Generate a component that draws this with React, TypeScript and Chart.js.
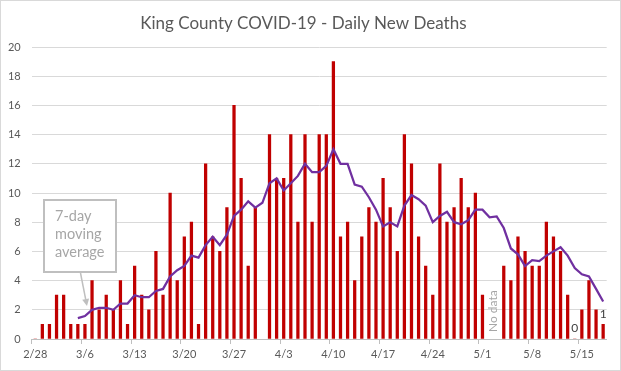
import React, { useEffect, useRef } from 'react';
import { Chart, registerables } from 'chart.js';

Chart.register(...registerables);

const FONT = 'Lato, "Open Sans", sans-serif';

const titleText = 'King County COVID-19 - Daily New Deaths';

const dates = [
  '2/28', '2/29', '3/1', '3/2', '3/3', '3/4', '3/5', '3/6', '3/7', '3/8',
  '3/9', '3/10', '3/11', '3/12', '3/13', '3/14', '3/15', '3/16', '3/17', '3/18',
  '3/19', '3/20', '3/21', '3/22', '3/23', '3/24', '3/25', '3/26', '3/27', '3/28',
  '3/29', '3/30', '3/31', '4/1', '4/2', '4/3', '4/4', '4/5', '4/6', '4/7',
  '4/8', '4/9', '4/10', '4/11', '4/12', '4/13', '4/14', '4/15', '4/16', '4/17',
  '4/18', '4/19', '4/20', '4/21', '4/22', '4/23', '4/24', '4/25', '4/26', '4/27',
  '4/28', '4/29', '4/30', '5/1', '5/2', '5/3', '5/4', '5/5', '5/6', '5/7',
  '5/8', '5/9', '5/10', '5/11', '5/12', '5/13', '5/14', '5/15', '5/16', '5/17',
  '5/18',
];

const dailyDeaths = [
  0, 1, 1, 3, 3, 1, 1, 1, 4, 2,
  3, 2, 4, 1, 5, 3, 2, 6, 3, 10,
  4, 7, 8, 1, 12, 7, 6, 9, 16, 11,
  5, 9, null, 14, 11, 11, 14, 8, 14, 8,
  14, 14, 19, 7, 8, 4, 7, 9, 8, 11,
  9, 6, 14, 12, 7, 5, 3, 12, 8, 9,
  11, 9, 10, 3, null, null, 5, 4, 7, 6,
  5, 5, 8, 7, 6, 3, 0, 2, 4, 2,
  1,
];

const movingAverage = [
  null, null, null, null, null, null, 1.43, 1.57, 2.0, 2.14,
  2.14, 2.0, 2.43, 2.43, 3.0, 2.86, 2.86, 3.29, 3.43, 4.29,
  4.71, 5.0, 5.71, 5.57, 6.43, 7.0, 6.43, 7.14, 8.43, 8.86,
  9.43, 9.0, 9.33, 10.67, 11.0, 10.17, 10.67, 11.17, 12.0, 11.43,
  11.43, 11.86, 13.0, 12.0, 12.0, 10.57, 10.43, 9.71, 8.86, 7.71,
  8.0, 7.71, 9.14, 9.86, 9.57, 9.14, 8.0, 8.43, 8.71, 8.0,
  7.86, 8.14, 8.86, 8.86, 8.33, 8.4, 7.6, 6.2, 5.8, 5.0,
  5.4, 5.33, 5.71, 6.0, 6.29, 5.71, 4.86, 4.43, 4.29, 3.43,
  2.57,
];

const labelEvery = 7;
const valueLabelIndexes = [76, 80];
const noDataIndexes = [64, 65];
const noDataText = 'No data';
const calloutLines = ['7-day', 'moving', 'average'];

const overlayPlugin = {
  id: 'overlay',
  beforeDraw(chart: any) {
    const { ctx, width, height } = chart;
    ctx.save();
    ctx.fillStyle = '#ffffff';
    ctx.fillRect(0, 0, width, height);
    ctx.strokeStyle = '#d9d9d9';
    ctx.lineWidth = 1;
    ctx.strokeRect(0.5, 0.5, width - 1, height - 1);
    ctx.restore();
  },
  afterDraw(chart: any) {
    const { ctx } = chart;
    const xs = chart.scales.x;
    const ys = chart.scales.y;
    ctx.save();

    // value labels
    ctx.font = `12px ${FONT}`;
    ctx.fillStyle = '#404040';
    ctx.textAlign = 'center';
    ctx.textBaseline = 'middle';
    valueLabelIndexes.forEach((i) => {
      const v = dailyDeaths[i] as number;
      ctx.fillText(String(v), xs.getPixelForValue(i), ys.getPixelForValue(v) - 10.5);
    });

    // No data
    const nx = (xs.getPixelForValue(noDataIndexes[0]) + xs.getPixelForValue(noDataIndexes[1])) / 2;
    ctx.save();
    ctx.translate(nx, ys.getPixelForValue(0) - 7);
    ctx.rotate(-Math.PI / 2);
    ctx.font = `12px ${FONT}`;
    ctx.fillStyle = '#a6a6a6';
    ctx.textAlign = 'left';
    ctx.textBaseline = 'middle';
    ctx.fillText(noDataText, 0, 0);
    ctx.restore();

    // callout
    ctx.fillStyle = '#ffffff';
    ctx.fillRect(44, 200, 72, 72);
    ctx.strokeStyle = '#bfbfbf';
    ctx.lineWidth = 2;
    ctx.strokeRect(44, 200, 72, 72);
    ctx.font = `14.5px ${FONT}`;
    ctx.fillStyle = '#a6a6a6';
    ctx.textAlign = 'left';
    ctx.textBaseline = 'alphabetic';
    calloutLines.forEach((t, k) => ctx.fillText(t, 55, 221 + k * 17.8));

    // arrow
    const x0 = 80.5, y0 = 273, x1 = 87, y1 = 306;
    const ang = Math.atan2(y1 - y0, x1 - x0);
    ctx.strokeStyle = '#bfbfbf';
    ctx.fillStyle = '#bfbfbf';
    ctx.lineWidth = 1.5;
    ctx.beginPath();
    ctx.moveTo(x0, y0);
    ctx.lineTo(x1 - 5 * Math.cos(ang), y1 - 5 * Math.sin(ang));
    ctx.stroke();
    ctx.beginPath();
    ctx.moveTo(x1, y1);
    ctx.lineTo(x1 - 7 * Math.cos(ang) + 3.5 * Math.sin(ang), y1 - 7 * Math.sin(ang) - 3.5 * Math.cos(ang));
    ctx.lineTo(x1 - 7 * Math.cos(ang) - 3.5 * Math.sin(ang), y1 - 7 * Math.sin(ang) + 3.5 * Math.cos(ang));
    ctx.closePath();
    ctx.fill();

    ctx.restore();
  },
};

export default function App() {
  const ref = useRef<HTMLCanvasElement | null>(null);

  useEffect(() => {
    document.body.style.margin = '0';
    const canvas = ref.current;
    if (!canvas) return;
    const chart = new Chart(canvas, {
      type: 'bar',
      data: {
        labels: dates,
        datasets: [
          {
            type: 'line',
            label: '7-day moving average',
            data: movingAverage,
            borderColor: '#7030a0',
            borderWidth: 2.25,
            pointRadius: 0,
            tension: 0,
            fill: false,
            order: 0,
          } as any,
          {
            type: 'bar',
            label: 'Daily new deaths',
            data: dailyDeaths,
            backgroundColor: '#c00000',
            barThickness: 2.6,
            order: 1,
          },
        ],
      },
      options: {
        responsive: false,
        animation: false,
        devicePixelRatio: 1,
        layout: { padding: { top: 0, left: 0, right: 14.3, bottom: 0 } },
        plugins: {
          legend: { display: false },
          tooltip: { enabled: false },
          title: {
            display: true,
            text: titleText,
            color: '#595959',
            font: { family: FONT, size: 17, weight: 'normal' },
            padding: { top: 13, bottom: 13.6 },
          },
        },
        scales: {
          x: {
            offset: true,
            grid: {
              offset: true,
              drawOnChartArea: false,
              tickLength: 5,
              color: (c: any) => (c.index % labelEvery === 0 ? '#bfbfbf' : 'rgba(0,0,0,0)'),
            },
            border: { color: '#bfbfbf' },
            ticks: {
              autoSkip: false,
              maxRotation: 0,
              minRotation: 0,
              padding: 4,
              color: '#595959',
              font: { family: FONT, size: 11 },
              callback: (_v: any, i: number) => (i % labelEvery === 0 ? dates[i] : ''),
            },
            afterFit: (s: any) => {
              s.height = 32;
            },
          },
          y: {
            min: 0,
            max: 20,
            grid: { color: '#d9d9d9', drawTicks: false },
            border: { display: false },
            ticks: {
              stepSize: 2,
              padding: 11,
              color: '#595959',
              font: { family: FONT, size: 11 },
            },
            afterFit: (s: any) => {
              s.width = 31.7;
            },
          },
        },
      },
      plugins: [overlayPlugin],
    });
    return () => chart.destroy();
  }, []);

  return (
    <div style={{ width: 621, height: 371 }}>
      <canvas ref={ref} width={621} height={371} style={{ display: 'block' }} />
    </div>
  );
}
